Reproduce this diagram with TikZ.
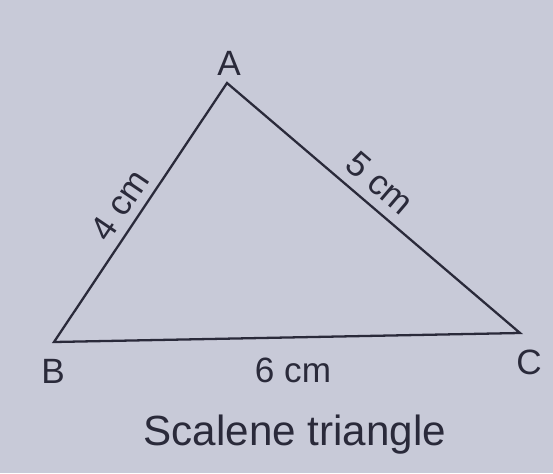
\documentclass[tikz,border=0pt]{standalone}
\usepackage{fontspec}
\setmainfont{Liberation Sans}
\usepackage{xcolor}
\usetikzlibrary{positioning,calc}
\definecolor{paper}{RGB}{200,202,216}
\definecolor{ink}{RGB}{42,42,58}

\begin{document}
\begin{tikzpicture}[font=\fontsize{20}{24}\selectfont]
  \tikzset{
    side/.style={draw=ink, line width=1.3pt, line join=miter},
    vlabel/.style={text=ink, inner sep=0pt},
    mlabel/.style={text=ink, inner sep=0pt},
  }
  % background page
  \fill[paper] (0,0) rectangle (11.06,9.46);
  \useasboundingbox (0,0) rectangle (11.06,9.46);

  % vertices
  \coordinate (A) at (4.54,7.80);
  \coordinate (B) at (1.08,2.62);
  \coordinate (C) at (10.40,2.80);

  % triangle
  \draw[side] (A) -- (B) -- (C) -- cycle;

  % vertex names
  \node[vlabel] (lA) at (4.58,8.20) {A};
  \node[vlabel] (lB) at (1.06,2.04) {B};
  \node[vlabel] (lC) at (10.58,2.22) {C};

  % side lengths
  \node[mlabel, rotate=56] (ab) at (2.40,5.36) {4 cm};
  \node[mlabel, rotate=-40.5] (ac) at (7.60,5.80) {5 cm};
  \node[mlabel] (bc) at (5.86,2.06) {6 cm};

  % caption
  \node[text=ink, font=\fontsize{24}{28}\selectfont] (cap) at (5.90,0.76) {Scalene triangle};
\end{tikzpicture}
\end{document}
